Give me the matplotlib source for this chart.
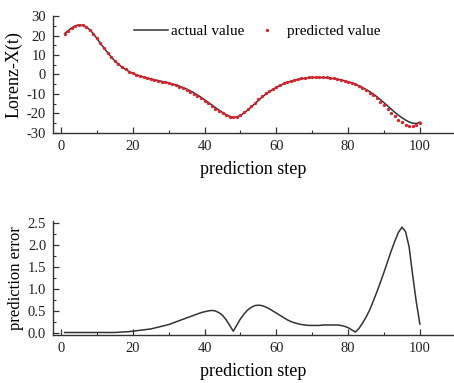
import matplotlib
matplotlib.use('Agg')
import matplotlib.pyplot as plt
from matplotlib.ticker import MultipleLocator, FormatStrFormatter

plt.rcParams['font.family'] = ['Liberation Serif', 'DejaVu Serif']
plt.rcParams['axes.unicode_minus'] = False

# prediction steps
steps = list(range(1, 101))

# actual Lorenz X(t)
actual = [
    21.0, 22.5, 24.0, 25.0, 25.5, 25.3, 24.5, 23.0, 21.0, 18.5,
    16.0, 13.5, 11.2, 9.0, 7.0, 5.3, 3.8, 2.6, 1.5, 0.6,
    -0.1, -0.7, -1.3, -1.8, -2.3, -2.7, -3.1, -3.5, -3.9, -4.4,
    -4.9, -5.4, -6.0, -6.7, -7.5, -8.4, -9.4, -10.5, -11.7, -13.0,
    -14.3, -15.6, -17.0, -18.3, -19.5, -20.6, -21.5, -22.0, -21.8, -21.0,
    -19.8, -18.3, -16.7, -15.0, -13.3, -11.7, -10.2, -8.9, -7.7, -6.6,
    -5.6, -4.8, -4.1, -3.5, -3.0, -2.6, -2.2, -1.9, -1.7, -1.6,
    -1.5, -1.5, -1.6, -1.7, -1.9, -2.1, -2.4, -2.8, -3.2, -3.7,
    -4.3, -5.0, -5.8, -6.7, -7.7, -8.8, -10.0, -11.4, -12.9, -14.5,
    -16.1, -17.8, -19.4, -20.9, -22.2, -23.4, -24.4, -25.0, -25.2, -24.5,
]

# predicted Lorenz X(t)
predicted = [
    21.0, 22.5, 24.0, 25.0, 25.5, 25.3, 24.5, 23.0, 21.0, 18.5,
    16.0, 13.5, 11.2, 9.0, 7.0, 5.3, 3.8, 2.6, 1.5, 0.6,
    -0.1, -0.8, -1.4, -1.9, -2.4, -2.8, -3.2, -3.6, -4.1, -4.6,
    -5.1, -5.6, -6.3, -7.0, -7.8, -8.8, -9.8, -10.9, -12.1, -13.5,
    -14.8, -16.1, -17.5, -18.8, -19.9, -20.9, -21.7, -22.0, -21.6, -20.7,
    -19.4, -17.8, -16.1, -14.4, -12.7, -11.1, -9.6, -8.4, -7.2, -6.2,
    -5.2, -4.5, -3.8, -3.2, -2.8, -2.4, -2.0, -1.7, -1.5, -1.4,
    -1.3, -1.3, -1.4, -1.5, -1.7, -1.9, -2.2, -2.6, -3.1, -3.6,
    -4.2, -5.0, -5.9, -6.9, -8.1, -9.3, -10.7, -12.3, -14.0, -15.9,
    -17.7, -19.7, -21.5, -23.2, -24.6, -25.7, -26.3, -26.3, -25.9, -24.7,
]

# prediction error
error = [
    0.01, 0.01, 0.01, 0.01, 0.01, 0.01, 0.01, 0.01, 0.01, 0.01,
    0.01, 0.01, 0.01, 0.01, 0.01, 0.015, 0.02, 0.025, 0.03, 0.04,
    0.05, 0.06, 0.07, 0.08, 0.09, 0.11, 0.13, 0.15, 0.17, 0.19,
    0.22, 0.25, 0.28, 0.31, 0.34, 0.37, 0.40, 0.43, 0.46, 0.48,
    0.50, 0.51, 0.50, 0.46, 0.40, 0.30, 0.17, 0.04, 0.18, 0.32,
    0.43, 0.52, 0.58, 0.62, 0.63, 0.62, 0.59, 0.55, 0.50, 0.45,
    0.40, 0.35, 0.30, 0.26, 0.23, 0.21, 0.19, 0.18, 0.17, 0.17,
    0.17, 0.17, 0.18, 0.18, 0.18, 0.18, 0.18, 0.17, 0.15, 0.12,
    0.07, 0.02, 0.10, 0.22, 0.36, 0.52, 0.72, 0.93, 1.15, 1.38,
    1.62, 1.86, 2.08, 2.28, 2.40, 2.30, 1.95, 1.30, 0.70, 0.20,
]

fig = plt.figure(figsize=(4.54, 3.83), dpi=100)
ax1 = fig.add_axes([0.117, 0.653, 0.883, 0.305])
ax2 = fig.add_axes([0.117, 0.125, 0.883, 0.299])

ax1.plot(steps, actual, color='#333333', lw=1.1, label='actual value')
ax1.plot(steps, predicted, ls='none', marker='o', ms=2.4, color='#e0202a',
         markeredgewidth=0, label='predicted value')
ax1.set_ylim(-30, 30)
ax1.yaxis.set_major_locator(MultipleLocator(10))
ax1.yaxis.set_minor_locator(MultipleLocator(5))
ax1.set_ylabel('Lorenz-X(t)', fontsize=13, labelpad=3)
ax1.legend(loc='center', bbox_to_anchor=(0.51, 0.87), ncol=2, frameon=False,
           fontsize=11, handlelength=2.2, columnspacing=0.4, handletextpad=0.2,
           markerscale=1.0)

ax2.plot(steps, error, color='#333333', lw=1.1)
ax2.set_ylim(-0.05, 2.55)
ax2.yaxis.set_major_locator(MultipleLocator(0.5))
ax2.yaxis.set_minor_locator(MultipleLocator(0.25))
ax2.yaxis.set_major_formatter(FormatStrFormatter('%.1f'))
ax2.set_ylabel('prediction error', fontsize=12, labelpad=3)

for ax in (ax1, ax2):
    ax.set_xlim(-2.2, 109.5)
    ax.xaxis.set_minor_locator(MultipleLocator(10))
    ax.set_xticks([0, 20, 40, 60, 80, 100])
    ax.spines['top'].set_visible(False)
    ax.spines['right'].set_visible(False)
    for s in ('left', 'bottom'):
        ax.spines[s].set_color('#333333')
        ax.spines[s].set_linewidth(1.0)
    ax.tick_params(which='major', direction='in', length=4, width=0.9,
                   labelsize=10.5, colors='#333333', pad=5)
    ax.tick_params(which='minor', direction='in', length=2.5, width=0.8,
                   colors='#333333')
    ax.tick_params(labelcolor='#222222')
    ax.set_xlabel('prediction step', fontsize=13, labelpad=6)

fig.savefig('out.png', dpi=100)
